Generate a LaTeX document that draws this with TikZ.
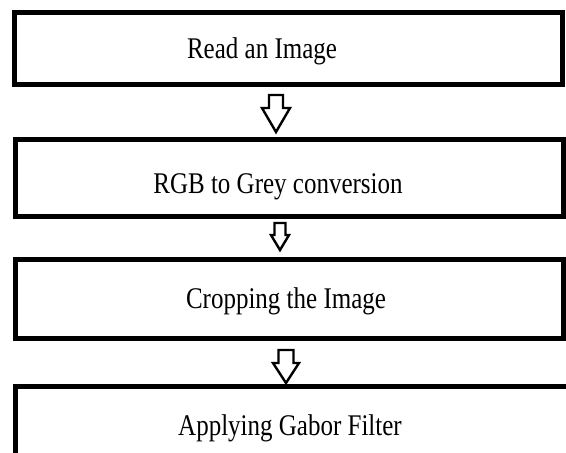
\documentclass[tikz,border=0pt]{standalone}
\usepackage{fontspec}
\setmainfont{Liberation Serif}
\usepackage{tikz}
\usetikzlibrary{calc}

\tikzset{
    stepbox/.style={draw, line width=5pt, minimum width=548pt, inner sep=0pt},
    steptext/.style={inner sep=0pt, font=\fontsize{25}{28}\selectfont},
    hollow/.style={draw, line width=2.4pt, line join=miter, fill=white}
}

\begin{document}
\begin{tikzpicture}[x=1pt, y=-1pt]
    \clip (0,0) rectangle (566,453);
    \useasboundingbox (0,0) rectangle (566,453);

    \node[stepbox, minimum height=72pt] (read) at (288,48) {};
    \node[stepbox, minimum height=77pt] (grey) at (289,177.5) {};
    \node[stepbox, minimum height=79pt] (crop) at (289,298.5) {};
    \node[stepbox, minimum height=120pt, minimum width=600pt] (gabor) at (315,446) {};

    \node[steptext] (readtxt) at (262,51) {\scalebox{1}[1.2]{Read an Image}};
    \node[steptext] (greytxt) at (278,187) {\scalebox{1}[1.2]{RGB to Grey conversion}};
    \node[steptext] (croptxt) at (286,301) {\scalebox{1}[1.2]{Cropping the Image}};
    \node[steptext] (gabortxt) at (290,428) {\scalebox{1}[1.2]{Applying Gabor Filter}};

    % hollow down arrows: x / top / head base / tip / shaft / head
    \foreach \cx/\ya/\yb/\yc/\s/\h in {276/95/108/132/7/14, 280/223/235/250/5.5/9, 286/350/363/383/7.5/13}
        \draw[hollow] (\cx-\s,\ya) -- (\cx+\s,\ya) -- (\cx+\s,\yb) -- (\cx+\h,\yb)
            -- (\cx,\yc) -- (\cx-\h,\yb) -- (\cx-\s,\yb) -- cycle;
\end{tikzpicture}
\end{document}
